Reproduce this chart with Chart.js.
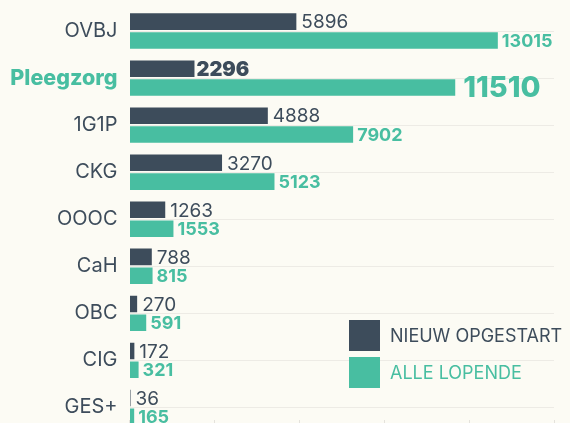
<!DOCTYPE html>
<html>
<head>
<meta charset="utf-8">
<script src="https://cdn.jsdelivr.net/npm/chart.js@4.4.1/dist/chart.umd.min.js"></script>
<style>
  html, body { margin: 0; padding: 0; background: #fcfbf4; overflow: hidden; }
  #wrap { position: relative; width: 570px; height: 423px; overflow: hidden; }
  canvas { position: absolute; left: 0; top: 0; }
  #legend { position: absolute; left: 349px; top: 320px; font-family: Inter, sans-serif; }
  .item { display: flex; align-items: center; height: 31px; margin-bottom: 6px; }
  .sw { width: 31px; height: 31px; margin-right: 10px; flex: none; }
  .tx { font-size: 18px; white-space: nowrap; }
</style>
</head>
<body>
<div id="wrap">
  <canvas id="c" width="570" height="470"></canvas>
  <div id="legend"></div>
</div>
<script>
// ---- data ----
const categories = ['OVBJ', 'Pleegzorg', '1G1P', 'CKG', 'OOOC', 'CaH', 'OBC', 'CIG', 'GES+'];
const nieuwOpgestart = [5896, 2296, 4888, 3270, 1263, 788, 270, 172, 36];
const alleLopende = [13015, 11510, 7902, 5123, 1553, 815, 591, 321, 165];
const seriesNames = ['NIEUW OPGESTART', 'ALLE LOPENDE'];
const highlightCategory = 'Pleegzorg';
const xMax = 15000;
const xStep = 3000;

// ---- styles ----
const DARK = '#3d4c5b';
const TEAL = '#48bea1';
const GRID = '#edebe5';
const FONT = 'Inter, sans-serif';

const valueLabels = {
  id: 'valueLabels',
  afterDatasetsDraw(chart) {
    const ctx = chart.ctx;
    chart.data.datasets.forEach((ds, di) => {
      const meta = chart.getDatasetMeta(di);
      meta.data.forEach((bar, i) => {
        const hi = categories[i] === highlightCategory;
        let weight, size, gap;
        if (di === 0) { weight = hi ? 900 : 400; size = hi ? 20 : 19; gap = hi ? 2 : 5; }
        else { weight = hi ? 800 : 700; size = hi ? 29 : 18; gap = hi ? 8 : 4; }
        ctx.save();
        ctx.font = weight + ' ' + size + 'px ' + FONT;
        ctx.fillStyle = ds.backgroundColor;
        ctx.textAlign = 'left';
        ctx.textBaseline = 'middle';
        ctx.fillText(String(ds.data[i]), bar.x + gap, bar.y + 1);
        ctx.restore();
      });
    });
  }
};

const chart = new Chart(document.getElementById('c'), {
  type: 'bar',
  data: {
    labels: categories,
    datasets: [
      { label: seriesNames[0], data: nieuwOpgestart, backgroundColor: DARK },
      { label: seriesNames[1], data: alleLopende, backgroundColor: TEAL }
    ]
  },
  options: {
    indexAxis: 'y',
    responsive: false,
    animation: false,
    devicePixelRatio: 1,
    categoryPercentage: 0.8,
    barPercentage: 0.88,
    layout: { padding: { top: 7.5, right: 16, left: 0, bottom: 0 } },
    plugins: { legend: { display: false }, tooltip: { enabled: false } },
    scales: {
      x: {
        type: 'linear',
        min: 0,
        max: xMax,
        ticks: { display: false, stepSize: xStep },
        border: { display: false },
        grid: { drawOnChartArea: false, drawTicks: true, tickLength: -11, color: '#e4e2dc' },
        afterFit(s) { s.height = 39; s.paddingLeft = 0; s.paddingRight = 0; }
      },
      y: {
        border: { display: false },
        grid: { offset: false, drawTicks: false, color: GRID, lineWidth: 1 },
        ticks: {
          padding: 12,
          color: (c) => categories[c.index] === highlightCategory ? TEAL : DARK,
          font: (c) => categories[c.index] === highlightCategory
            ? { family: FONT, size: 21.5, weight: 800 }
            : { family: FONT, size: 20, weight: 400 }
        },
        afterFit(s) { s.width = 129.5; s.paddingTop = 0; s.paddingBottom = 0; }
      }
    }
  },
  plugins: [valueLabels]
});

// HTML legend from datasets
const legend = document.getElementById('legend');
chart.data.datasets.forEach((ds) => {
  const item = document.createElement('div');
  item.className = 'item';
  const sw = document.createElement('div');
  sw.className = 'sw';
  sw.style.background = ds.backgroundColor;
  const tx = document.createElement('span');
  tx.className = 'tx';
  tx.style.color = ds.backgroundColor;
  tx.textContent = ds.label;
  item.appendChild(sw);
  item.appendChild(tx);
  legend.appendChild(item);
});
</script>
</body>
</html>
